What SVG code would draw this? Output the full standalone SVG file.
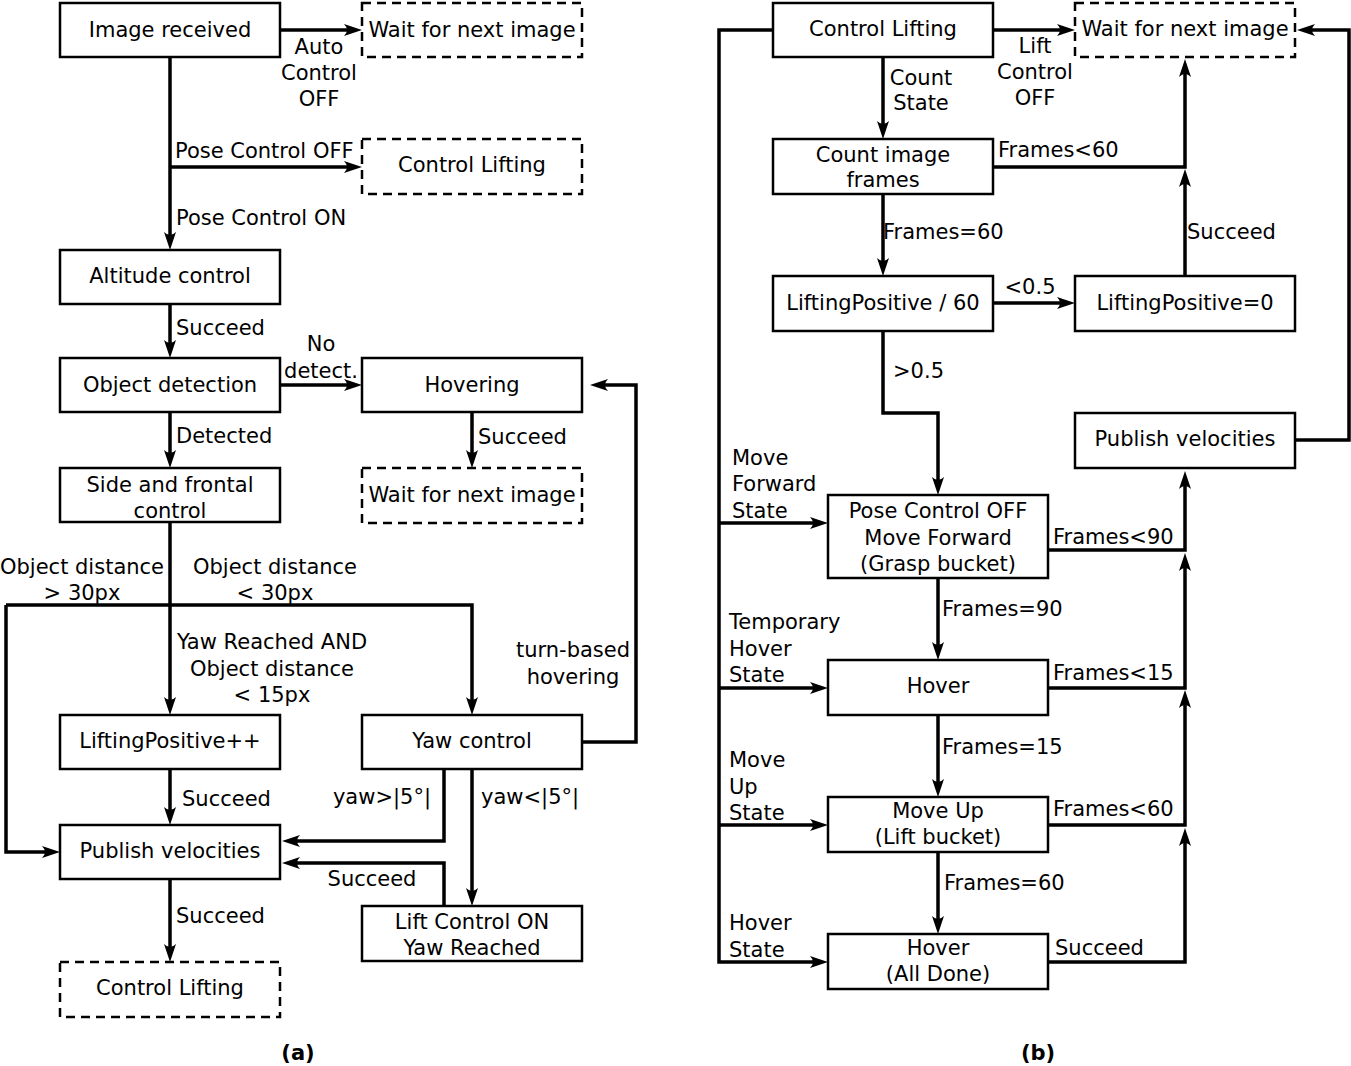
<svg xmlns="http://www.w3.org/2000/svg" width="1351" height="1066" viewBox="0 0 1351 1066">
<defs>
<style>
text{font-family:"DejaVu Sans","Liberation Sans",sans-serif;font-size:21px;fill:#000}
.m{text-anchor:middle}
.e{text-anchor:end}
.b{font-weight:bold}
.box{fill:#fff;stroke:#000;stroke-width:2.5}
.dash{fill:#fff;stroke:#000;stroke-width:2.5;stroke-dasharray:9 6}
.c{fill:none;stroke:#000;stroke-width:3.5}
.a{marker-end:url(#ah)}
</style>
<marker id="ah" markerWidth="20" markerHeight="14" refX="12" refY="7" orient="auto" markerUnits="userSpaceOnUse">
<path d="M0,1 L18,7 L0,13 Q6,7 0,1 Z" fill="#000"/>
</marker>
</defs>
<rect width="1351" height="1066" fill="#fff"/>

<g id="connectors">
<path class="c a" d="M280,30 H356"/>
<path class="c a" d="M170,57 V244"/>
<path class="c a" d="M170,167 H356"/>
<path class="c a" d="M170,304 V352"/>
<path class="c a" d="M280,385 H356"/>
<path class="c a" d="M472,412 V462"/>
<path class="c a" d="M170,412 V462"/>
<path class="c a" d="M170,522 V709"/>
<path class="c a" d="M6,605 H472 V709"/>
<path class="c a" d="M6,605 V852 H54"/>
<path class="c a" d="M170,769 V819"/>
<path class="c a" d="M582,742 H636 V385 H596"/>
<path class="c a" d="M444,769 V841 H288"/>
<path class="c a" d="M472,769 V900"/>
<path class="c a" d="M444,906 V863 H288"/>
<path class="c a" d="M170,879 V956"/>

<path class="c a" d="M993,30 H1069"/>
<path class="c a" d="M773,30 H719 V962 H822"/>
<path class="c a" d="M719,523 H822"/>
<path class="c a" d="M719,688 H822"/>
<path class="c a" d="M719,825 H822"/>
<path class="c a" d="M883,57 V133"/>
<path class="c a" d="M883,194 V270"/>
<path class="c a" d="M993,303 H1069"/>
<path class="c a" d="M1185,276 V175"/>
<path class="c a" d="M993,167 H1185 V65"/>
<path class="c a" d="M883,331 V413 H938 V489"/>
<path class="c a" d="M1295,440 H1349 V30 H1303"/>
<path class="c a" d="M1048,550 H1185 V477"/>
<path class="c a" d="M1048,688 H1185 V559"/>
<path class="c a" d="M1048,825 H1185 V696"/>
<path class="c a" d="M1048,962 H1185 V834"/>
<path class="c a" d="M938,578 V654"/>
<path class="c a" d="M938,715 V791"/>
<path class="c a" d="M938,852 V928"/>
</g>

<g id="labels">
<text class="m" x="319" y="54">Auto</text>
<text class="m" x="319" y="80">Control</text>
<text class="m" x="319" y="106">OFF</text>
<text x="175" y="158">Pose Control OFF</text>
<text x="176" y="225">Pose Control ON</text>
<text x="176" y="335">Succeed</text>
<text class="m" x="321" y="351">No</text>
<text class="m" x="321" y="378">detect.</text>
<text x="478" y="444">Succeed</text>
<text x="176" y="443">Detected</text>
<text class="m" x="82" y="574">Object distance</text>
<text class="m" x="82" y="600">&gt; 30px</text>
<text class="m" x="275" y="574">Object distance</text>
<text class="m" x="275" y="600">&lt; 30px</text>
<text class="m" x="272" y="649">Yaw Reached AND</text>
<text class="m" x="272" y="676">Object distance</text>
<text class="m" x="272" y="702">&lt; 15px</text>
<text class="m" x="573" y="657">turn-based</text>
<text class="m" x="573" y="684">hovering</text>
<text x="182" y="806">Succeed</text>
<text class="e" x="431" y="804">yaw&gt;|5°|</text>
<text x="481" y="804">yaw&lt;|5°|</text>
<text class="m" x="372" y="886">Succeed</text>
<text x="176" y="923">Succeed</text>
<text class="m b" x="298" y="1060">(a)</text>

<text class="m" x="1035" y="53">Lift</text>
<text class="m" x="1035" y="79">Control</text>
<text class="m" x="1035" y="105">OFF</text>
<text class="m" x="921" y="85">Count</text>
<text class="m" x="921" y="110">State</text>
<text x="998" y="157">Frames&lt;60</text>
<text x="1187" y="239">Succeed</text>
<text x="883" y="239">Frames=60</text>
<text class="m" x="1030" y="294">&lt;0.5</text>
<text x="893" y="378">&gt;0.5</text>
<text x="1053" y="544">Frames&lt;90</text>
<text x="942" y="616">Frames=90</text>
<text x="1053" y="680">Frames&lt;15</text>
<text x="942" y="754">Frames=15</text>
<text x="1053" y="816">Frames&lt;60</text>
<text x="944" y="890">Frames=60</text>
<text x="1055" y="955">Succeed</text>
<text x="732" y="465">Move</text>
<text x="732" y="491">Forward</text>
<text x="732" y="518">State</text>
<text x="729" y="629">Temporary</text>
<text x="729" y="656">Hover</text>
<text x="729" y="682">State</text>
<text x="729" y="767">Move</text>
<text x="729" y="794">Up</text>
<text x="729" y="820">State</text>
<text x="729" y="930">Hover</text>
<text x="729" y="957">State</text>
<text class="m b" x="1038" y="1060">(b)</text>
</g>

<g id="a-image-received"><rect class="box" x="60" y="3" width="220" height="54"/><text class="m" x="170" y="37">Image received</text></g>
<g id="a-wait1"><rect class="dash" x="362" y="3" width="220" height="54"/><text class="m" x="472" y="37">Wait for next image</text></g>
<g id="a-control-lifting1"><rect class="dash" x="362" y="139" width="220" height="55"/><text class="m" x="472" y="172">Control Lifting</text></g>
<g id="a-altitude"><rect class="box" x="60" y="250" width="220" height="54"/><text class="m" x="170" y="283">Altitude control</text></g>
<g id="a-object-detection"><rect class="box" x="60" y="358" width="220" height="54"/><text class="m" x="170" y="392">Object detection</text></g>
<g id="a-hovering"><rect class="box" x="362" y="358" width="220" height="54"/><text class="m" x="472" y="392">Hovering</text></g>
<g id="a-wait2"><rect class="dash" x="362" y="468" width="220" height="55"/><text class="m" x="472" y="502">Wait for next image</text></g>
<g id="a-side-frontal"><rect class="box" x="60" y="468" width="220" height="54"/><text class="m" x="170" y="492">Side and frontal</text><text class="m" x="170" y="518">control</text></g>
<g id="a-lifting-positive"><rect class="box" x="60" y="715" width="220" height="54"/><text class="m" x="170" y="748">LiftingPositive++</text></g>
<g id="a-yaw-control"><rect class="box" x="362" y="715" width="220" height="54"/><text class="m" x="472" y="748">Yaw control</text></g>
<g id="a-publish"><rect class="box" x="60" y="825" width="220" height="54"/><text class="m" x="170" y="858">Publish velocities</text></g>
<g id="a-lift-control-on"><rect class="box" x="362" y="906" width="220" height="55"/><text class="m" x="472" y="929">Lift Control ON</text><text class="m" x="472" y="955">Yaw Reached</text></g>
<g id="a-control-lifting2"><rect class="dash" x="60" y="962" width="220" height="55"/><text class="m" x="170" y="995">Control Lifting</text></g>

<g id="b-control-lifting"><rect class="box" x="773" y="3" width="220" height="54"/><text class="m" x="883" y="36">Control Lifting</text></g>
<g id="b-wait"><rect class="dash" x="1075" y="3" width="220" height="54"/><text class="m" x="1185" y="36">Wait for next image</text></g>
<g id="b-count"><rect class="box" x="773" y="139" width="220" height="55"/><text class="m" x="883" y="162">Count image</text><text class="m" x="883" y="187">frames</text></g>
<g id="b-lp60"><rect class="box" x="773" y="276" width="220" height="55"/><text class="m" x="883" y="310">LiftingPositive / 60</text></g>
<g id="b-lp0"><rect class="box" x="1075" y="276" width="220" height="55"/><text class="m" x="1185" y="310">LiftingPositive=0</text></g>
<g id="b-publish"><rect class="box" x="1075" y="413" width="220" height="55"/><text class="m" x="1185" y="446">Publish velocities</text></g>
<g id="b-pose-off"><rect class="box" x="828" y="495" width="220" height="83"/><text class="m" x="938" y="518">Pose Control OFF</text><text class="m" x="938" y="545">Move Forward</text><text class="m" x="938" y="571">(Grasp bucket)</text></g>
<g id="b-hover"><rect class="box" x="828" y="660" width="220" height="55"/><text class="m" x="938" y="693">Hover</text></g>
<g id="b-move-up"><rect class="box" x="828" y="797" width="220" height="55"/><text class="m" x="938" y="818">Move Up</text><text class="m" x="938" y="844">(Lift bucket)</text></g>
<g id="b-hover-done"><rect class="box" x="828" y="934" width="220" height="55"/><text class="m" x="938" y="955">Hover</text><text class="m" x="938" y="981">(All Done)</text></g>
</svg>
